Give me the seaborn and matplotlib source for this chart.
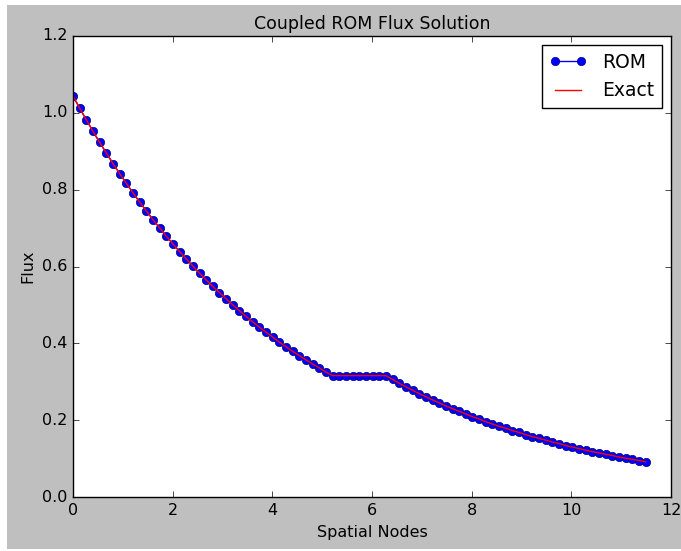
import numpy as np
import pandas as pd
import matplotlib
matplotlib.use("Agg")
import matplotlib.pyplot as plt
from matplotlib.patches import Rectangle
import seaborn as sns

plt.style.use("classic")
plt.rcParams["font.family"] = ["DejaVu Sans"]

# Spatial mesh: uniform nodes over the slab
n_nodes = 87
slab_length = 11.49

# Flux at each node (absorbing region, flat region, absorbing region)
rom_flux = [
    1.044, 1.012, 0.982, 0.952, 0.923, 0.896, 0.868, 0.842, 0.817, 0.792,
    0.768, 0.745, 0.722, 0.701, 0.679, 0.659, 0.639, 0.620, 0.601, 0.583,
    0.565, 0.548, 0.532, 0.516, 0.500, 0.485, 0.470, 0.456, 0.442, 0.429,
    0.416, 0.403, 0.391, 0.379, 0.368, 0.357, 0.346, 0.336, 0.325, 0.316,
    0.316, 0.316, 0.316, 0.316, 0.316, 0.316, 0.316,
    0.316, 0.306, 0.296, 0.287, 0.278, 0.269, 0.261, 0.253, 0.245, 0.237,
    0.230, 0.223, 0.216, 0.209, 0.203, 0.196, 0.190, 0.184, 0.179, 0.173,
    0.168, 0.162, 0.157, 0.153, 0.148, 0.143, 0.139, 0.134, 0.130, 0.126,
    0.122, 0.118, 0.115, 0.111, 0.108, 0.104, 0.101, 0.098, 0.095, 0.092,
]
exact_flux = list(rom_flux)

nodes = np.linspace(0.0, slab_length, n_nodes)
df = pd.DataFrame({"x": nodes, "rom": rom_flux, "exact": exact_flux})

fig = plt.figure(figsize=(6.81, 5.51), dpi=100, facecolor="white")
fig.patches.append(Rectangle((7 / 681, 2 / 551), 674 / 681, 544 / 551,
                             transform=fig.transFigure, facecolor="#bfbfbf",
                             edgecolor="none", zorder=-10))
ax = fig.add_axes([73 / 681, 1 - 497 / 551, 598 / 681, 461 / 551])

sns.lineplot(data=df, x="x", y="rom", ax=ax, color="b", marker="o",
             markersize=6, markeredgecolor="#000080", markeredgewidth=0.5,
             linewidth=1.0, label="ROM")
sns.lineplot(data=df, x="x", y="exact", ax=ax, color="r", linewidth=1.0,
             label="Exact")

ax.set_xlim(0, 12)
ax.set_ylim(0, 1.2)
ax.set_xticks(np.arange(0, 13, 2))
ax.set_yticks(np.arange(0, 1.21, 0.2))
ax.set_yticklabels([f"{v:.1f}" for v in np.arange(0, 1.21, 0.2)])
ax.tick_params(labelsize=11.5)
ax.set_xlabel("Spatial Nodes", fontsize=11.5)
ax.set_ylabel("Flux", fontsize=11.5)
ax.set_title("Coupled ROM Flux Solution", fontsize=12.5)

leg = ax.legend(loc="upper right", fontsize=13.5, numpoints=2, fancybox=False)
leg.get_frame().set_edgecolor("black")

fig.savefig("out.png", dpi=100, facecolor=fig.get_facecolor())
